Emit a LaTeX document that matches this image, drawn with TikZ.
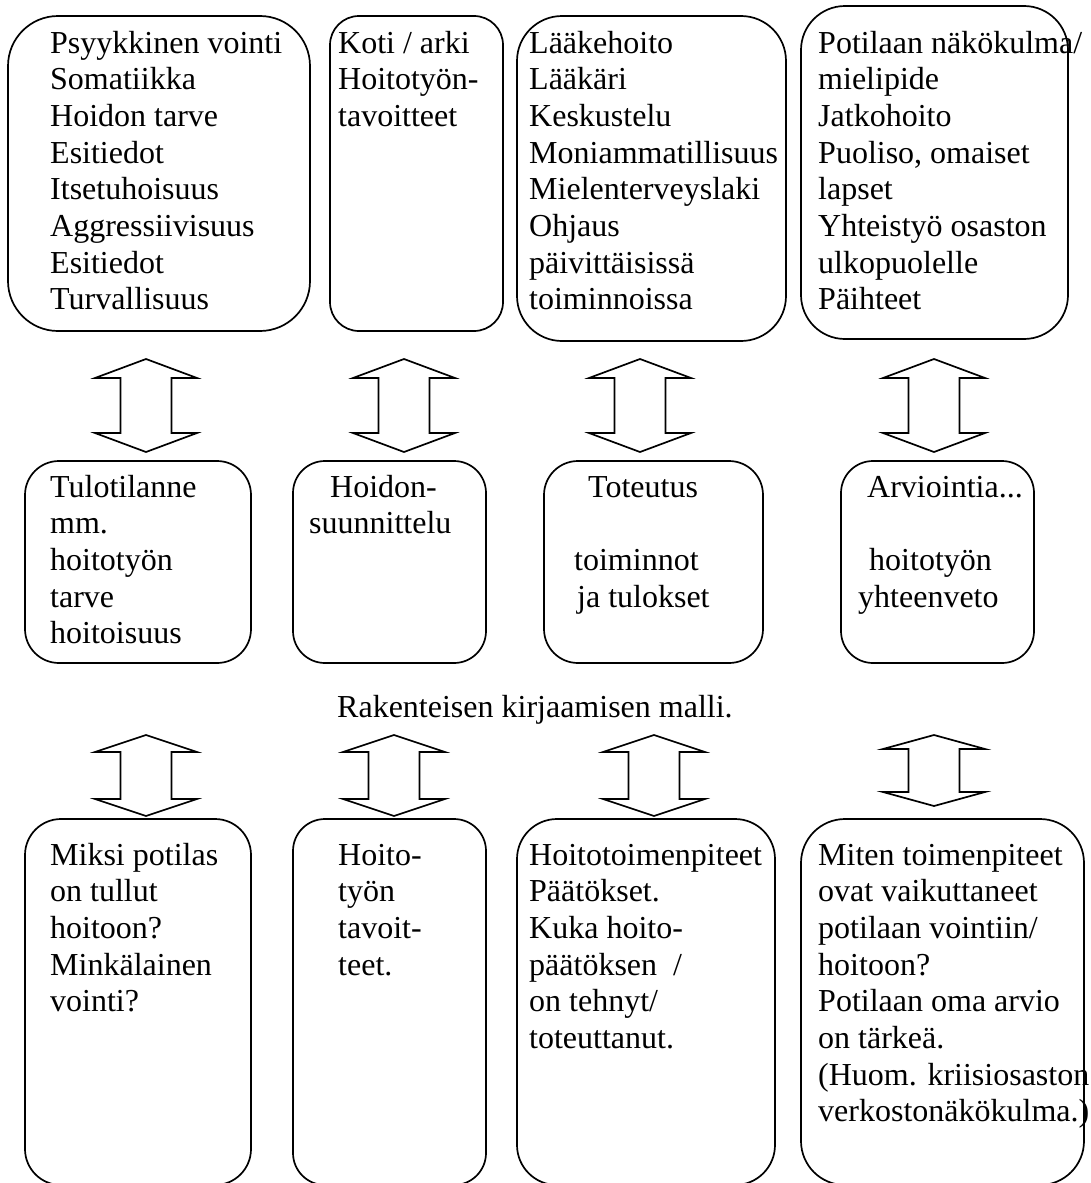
\documentclass[tikz,border=0pt]{standalone}
\usepackage{fontspec}
\setmainfont{Liberation Serif}
\begin{document}
\begin{tikzpicture}[x=1pt,y=-1pt,
  box/.style={draw, line width=1.7pt, inner sep=0pt, rounded corners=#1},
  txt/.style={anchor=base west, inner sep=0pt, font=\fontsize{32}{36.7}\selectfont},
  arr/.style={draw, line width=1.7pt, line join=miter},
  pics/updown/.style n args={2}{code={
    \draw[arr] (0,0) -- (-51,#2) -- (-25.5,#2) -- (-25.5,#1-#2) -- (-51,#1-#2) -- (0,#1)
      -- (51,#1-#2) -- (25.5,#1-#2) -- (25.5,#2) -- (51,#2) -- cycle;
  }}
]
\useasboundingbox (0,0) rectangle (1091,1183);
\clip (0,0) rectangle (1091,1183);

% top row boxes
\node[box=50, minimum width=302pt, minimum height=315pt] (T1) at (159,173.5) {};
\node[box=29, minimum width=173pt, minimum height=315pt] (T2) at (416.5,173.5) {};
\node[box=45, minimum width=269pt, minimum height=325pt] (T3) at (651.5,178.5) {};
\node[box=44, minimum width=267pt, minimum height=333pt] (T4) at (934.5,172.5) {};

% middle row boxes
\node[box=34, minimum width=226pt, minimum height=202pt] (M1) at (138,562) {};
\node[box=32, minimum width=193pt, minimum height=202pt] (M2) at (389.5,562) {};
\node[box=34, minimum width=219pt, minimum height=202pt] (M3) at (653.5,562) {};
\node[box=32, minimum width=193pt, minimum height=202pt] (M4) at (937.5,562) {};

% bottom row boxes
\node[box=36, minimum width=226pt, minimum height=366pt] (B1) at (138,1002) {};
\node[box=32, minimum width=193pt, minimum height=366pt] (B2) at (389.5,1002) {};
\node[box=40, minimum width=258pt, minimum height=366pt] (B3) at (646,1002) {};
\node[box=44, minimum width=283pt, minimum height=366pt] (B4) at (942.5,1002) {};

% double arrows, first row
\pic (A1) at (146,359) {updown={93}{19}};
\pic (A2) at (404,359) {updown={93}{19}};
\pic (A3) at (640,359) {updown={93}{19}};
\pic (A4) at (934,359) {updown={93}{19}};
% double arrows, second row
\pic (C1) at (146,735) {updown={81}{17}};
\pic (C2) at (394,735) {updown={81}{17}};
\pic (C3) at (654,735) {updown={81}{17}};
\pic (C4) at (934,735) {updown={71}{14}};

% texts, top row
\node[txt] (tT1) at (50,53) {\begin{tabular}[t]{@{}l@{}}Psyykkinen vointi\\Somatiikka\\Hoidon tarve\\Esitiedot\\Itsetuhoisuus\\Aggressiivisuus\\Esitiedot\\Turvallisuus\end{tabular}};
\node[txt] (tT2) at (338,53) {\begin{tabular}[t]{@{}l@{}}Koti / arki\\Hoitotyön-\\tavoitteet\end{tabular}};
\node[txt] (tT3) at (529,53) {\begin{tabular}[t]{@{}l@{}}Lääkehoito\\Lääkäri\\Keskustelu\\Moniammatillisuus\\Mielenterveyslaki\\Ohjaus\\päivittäisissä\\toiminnoissa\end{tabular}};
\node[txt] (tT4) at (818,53) {\begin{tabular}[t]{@{}l@{}}Potilaan näkökulma/\\mielipide\\Jatkohoito\\Puoliso, omaiset\\lapset\\Yhteistyö osaston\\ulkopuolelle\\Päihteet\end{tabular}};

% texts, middle row
\node[txt] (tM1) at (50,497) {\begin{tabular}[t]{@{}l@{}}Tulotilanne\\mm.\\hoitotyön\\tarve\\hoitoisuus\end{tabular}};
\node[txt] (tM2) at (309,497) {\begin{tabular}[t]{@{}l@{}}\hspace*{21pt}Hoidon-\\suunnittelu\end{tabular}};
\node[txt] (tM3) at (574,497) {\begin{tabular}[t]{@{}l@{}}\hspace*{14pt}Toteutus\\ \\toiminnot\\\hspace*{3pt}ja tulokset\end{tabular}};
\node[txt] (tM4) at (858,497) {\begin{tabular}[t]{@{}l@{}}\hspace*{9pt}Arviointia...\\ \\\hspace*{11pt}hoitotyön\\yhteenveto\end{tabular}};

% caption
\node[txt] (cap) at (337,717) {Rakenteisen kirjaamisen malli.};

% texts, bottom row
\node[txt] (tB1) at (50,865) {\begin{tabular}[t]{@{}l@{}}Miksi potilas\\on tullut\\hoitoon?\\Minkälainen\\vointi?\end{tabular}};
\node[txt] (tB2) at (338,865) {\begin{tabular}[t]{@{}l@{}}Hoito-\\työn\\tavoit-\\teet.\end{tabular}};
\node[txt] (tB3) at (529,865) {\begin{tabular}[t]{@{}l@{}}Hoitotoimenpiteet\\Päätökset.\\Kuka hoito-\\päätöksen\ \ /\\on tehnyt/\\toteuttanut.\end{tabular}};
\node[txt] (tB4) at (818,865) {\begin{tabular}[t]{@{}l@{}}Miten toimenpiteet\\ovat vaikuttaneet\\potilaan vointiin/\\hoitoon?\\Potilaan oma arvio\\on tärkeä.\\(Huom. kriisiosaston\\verkostonäkökulma.)\end{tabular}};
\end{tikzpicture}
\end{document}
